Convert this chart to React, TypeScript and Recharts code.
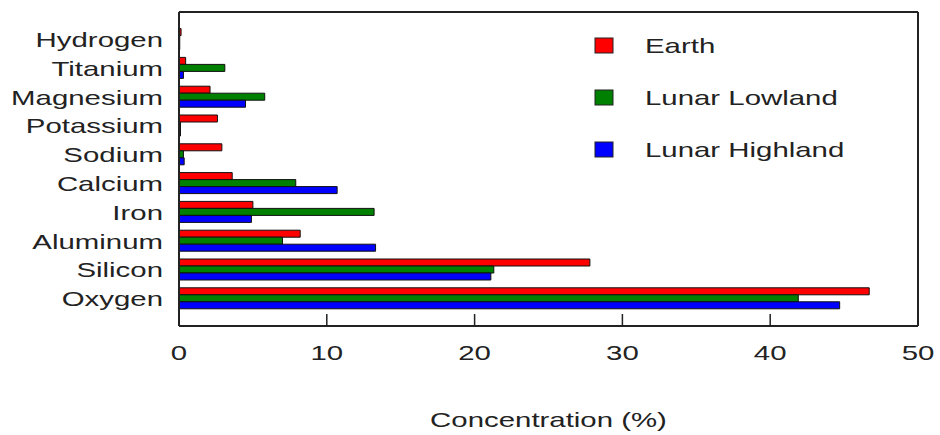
import * as React from "react";
import { BarChart, Bar, XAxis, YAxis, Legend } from "recharts";

// element abundances (%), read top to bottom as drawn
const elements = [
  "Hydrogen",
  "Titanium",
  "Magnesium",
  "Potassium",
  "Sodium",
  "Calcium",
  "Iron",
  "Aluminum",
  "Silicon",
  "Oxygen",
];
const earth = [0.14, 0.45, 2.1, 2.6, 2.9, 3.6, 5.0, 8.2, 27.8, 46.7];
const lunarLowland = [0.05, 3.1, 5.8, 0.1, 0.3, 7.9, 13.2, 7.0, 21.3, 41.9];
const lunarHighland = [0.05, 0.3, 4.5, 0.1, 0.35, 10.7, 4.9, 13.3, 21.1, 44.7];
const xTicks = [0, 10, 20, 30, 40, 50];

const series = [
  { key: "earth", name: "Earth", color: "#ff0000" },
  { key: "lowland", name: "Lunar Lowland", color: "#008000" },
  { key: "highland", name: "Lunar Highland", color: "#0000ff" },
];

const data = elements.map((name, i) => ({
  name,
  earth: earth[i],
  lowland: lunarLowland[i],
  highland: lunarHighland[i],
}));

const FONT = "'Liberation Sans', Arial, sans-serif";
const STRETCH = 1.4; // the original picture is stretched sideways
const INK = "#222";

function ElementTick({ x, y, payload }: any) {
  return (
    <g transform={`translate(${x},${y}) scale(${STRETCH},1)`}>
      <text x={0} y={7.5} textAnchor="end" fontSize={21} fontFamily={FONT} fill={INK}>
        {payload.value}
      </text>
    </g>
  );
}

function ValueTick({ x, y, payload }: any) {
  return (
    <g>
      <line x1={x} x2={x} y1={y} y2={y - 12} stroke={INK} strokeWidth={1.5} />
      <g transform={`translate(${x},${y + 34}) scale(${STRETCH},1)`}>
        <text x={0} y={0} textAnchor="middle" fontSize={21} fontFamily={FONT} fill={INK}>
          {payload.value}
        </text>
      </g>
    </g>
  );
}

function AxisTitle({ viewBox }: any) {
  const { x, y, width } = viewBox;
  return (
    <g transform={`translate(${x + width / 2},${y + 101}) scale(${STRETCH},1)`}>
      <text x={0} y={0} textAnchor="middle" fontSize={21} fontFamily={FONT} fill={INK}>
        Concentration (%)
      </text>
    </g>
  );
}

function LegendBox() {
  return (
    <svg width={330} height={140}>
      {series.map((s, i) => (
        <g key={s.key}>
          <rect x={5} y={8 + i * 52} width={18} height={15} fill={s.color} stroke={INK} strokeWidth={1} />
          <g transform={`translate(55,${23 + i * 52}) scale(${STRETCH},1)`}>
            <text x={0} y={0} fontSize={21} fontFamily={FONT} fill={INK}>
              {s.name}
            </text>
          </g>
        </g>
      ))}
    </svg>
  );
}

export default function App() {
  return (
    <div style={{ position: "absolute", left: 0, top: 0, width: 940, height: 435, background: "#fff" }}>
      <BarChart
        width={940}
        height={435}
        data={data}
        layout="vertical"
        margin={{ top: 11, right: 21, left: 0, bottom: 0 }}
        barCategoryGap="12.5%"
        barGap={0}
      >
        <XAxis
          type="number"
          domain={[0, 50]}
          ticks={xTicks}
          height={109}
          tickSize={0}
          tickMargin={0}
          tickLine={false}
          tick={<ValueTick />}
          axisLine={{ stroke: INK, strokeWidth: 2 }}
          label={{ content: AxisTitle }}
        />
        <XAxis
          xAxisId="top"
          orientation="top"
          type="number"
          domain={[0, 50]}
          ticks={xTicks}
          height={1}
          tick={false}
          tickLine={false}
          axisLine={{ stroke: INK, strokeWidth: 2 }}
        />
        <YAxis
          type="category"
          dataKey="name"
          width={179}
          padding={{ top: 13, bottom: 13 }}
          tickSize={0}
          tickMargin={16}
          tickLine={false}
          tick={<ElementTick />}
          interval={0}
          axisLine={{ stroke: INK, strokeWidth: 2 }}
        />
        <YAxis
          yAxisId="right"
          orientation="right"
          type="category"
          dataKey="name"
          width={1}
          tick={false}
          tickLine={false}
          axisLine={{ stroke: INK, strokeWidth: 2 }}
        />
        <Legend
          layout="horizontal"
          verticalAlign="middle"
          align="center"
          wrapperStyle={{ left: 590, top: 30, width: 330, height: 140 }}
          content={<LegendBox />}
        />
        {series.map((s) => (
          <Bar
            key={s.key}
            dataKey={s.key}
            name={s.name}
            fill={s.color}
            stroke="#111"
            strokeWidth={1}
            isAnimationActive={false}
          />
        ))}
      </BarChart>
    </div>
  );
}
